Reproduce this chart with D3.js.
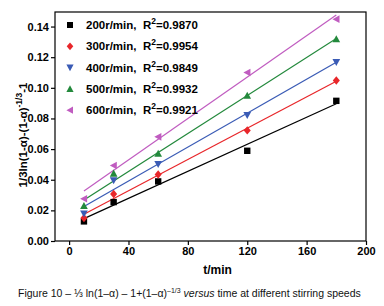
<!DOCTYPE html>
<html>
<head>
<meta charset="utf-8">
<script src="https://cdn.jsdelivr.net/npm/d3@7"></script>
<style>
  html, body { margin: 0; padding: 0; background: #fff; }
  svg { display: block; }
</style>
</head>
<body>
<div id="chart"></div>
<script>
// data
const times = [10, 30, 60, 120, 180];
const seriesNames = ["200r/min", "300r/min", "400r/min", "500r/min", "600r/min"];
const r2Values = ["0.9870", "0.9954", "0.9849", "0.9932", "0.9921"];
const s200 = [0.0128, 0.0254, 0.0389, 0.0589, 0.0915];
const s300 = [0.0150, 0.0307, 0.0434, 0.0722, 0.1048];
const s400 = [0.0178, 0.0395, 0.0502, 0.0822, 0.1168];
const s500 = [0.0230, 0.0441, 0.0571, 0.0950, 0.1318];
const s600 = [0.0276, 0.0493, 0.0680, 0.1100, 0.1448];
const xTicks = [0, 40, 80, 120, 160, 200];
const yTicks = [0.00, 0.02, 0.04, 0.06, 0.08, 0.10, 0.12, 0.14];

const allSeries = [s200, s300, s400, s500, s600];
const colors = ["#000000", "#e8262a", "#3a5bb5", "#23893c", "#c05cc0"];
const shapes = ["square", "diamond", "down", "up", "left"];

const W = 384, H = 306;
const margin = { top: 12, right: 18, bottom: 65, left: 55 };
const width = W - margin.left - margin.right;
const height = H - margin.top - margin.bottom;

const svg = d3.select("#chart").append("svg")
  .attr("width", W)
  .attr("height", H)
  .style("font-family", "Arial, 'Liberation Sans', sans-serif");

const g = svg.append("g")
  .attr("transform", `translate(${margin.left},${margin.top})`);

const x = d3.scaleLinear().domain([-9.5, 200]).range([0, width]);
const y = d3.scaleLinear().domain([0, 0.1495]).range([height, 0]);

// axes
const xAxis = g.append("g")
  .attr("transform", `translate(0,${height})`)
  .call(d3.axisBottom(x).tickValues(xTicks).tickSize(4).tickPadding(2));
const yAxis = g.append("g")
  .call(d3.axisLeft(y).tickValues(yTicks).tickFormat(d3.format(".2f")).tickSize(4).tickPadding(2));

[xAxis, yAxis].forEach(a => {
  a.select(".domain").remove();
  a.selectAll("line").attr("stroke", "#000").attr("stroke-width", 1.2);
  a.selectAll("text")
    .attr("fill", "#000")
    .style("font-size", "11px")
    .style("font-weight", "bold")
    .style("font-family", "Arial, 'Liberation Sans', sans-serif");
});

// frame
g.append("rect")
  .attr("width", width)
  .attr("height", height)
  .attr("fill", "none")
  .attr("stroke", "#000")
  .attr("stroke-width", 1.2);

// linear fits (least squares from the points)
function fit(xs, ys) {
  const mx = d3.mean(xs), my = d3.mean(ys);
  const sxy = d3.sum(xs, (v, i) => (v - mx) * (ys[i] - my));
  const sxx = d3.sum(xs, v => (v - mx) * (v - mx));
  const b = sxy / sxx;
  return { a: my - b * mx, b };
}

const line = d3.line().x(d => x(d[0])).y(d => y(d[1]));

allSeries.forEach((vals, i) => {
  const f = fit(times, vals);
  const x0 = times[0], x1 = times[times.length - 1];
  g.append("path")
    .attr("d", line([[x0, f.a + f.b * x0], [x1, f.a + f.b * x1]]))
    .attr("fill", "none")
    .attr("stroke", colors[i])
    .attr("stroke-width", 1.2);
});

function markerPath(shape, s) {
  switch (shape) {
    case "square": return `M${-s},${-s}H${s}V${s}H${-s}Z`;
    case "diamond": return `M0,${-s * 1.3}L${s * 1.1},0L0,${s * 1.3}L${-s * 1.1},0Z`;
    case "down": return `M${-s * 1.2},${-s}L${s * 1.2},${-s}L0,${s * 1.2}Z`;
    case "up": return `M${-s * 1.2},${s}L${s * 1.2},${s}L0,${-s * 1.2}Z`;
    case "left": return `M${s},${-s * 1.2}L${s},${s * 1.2}L${-s * 1.2},0Z`;
  }
}

allSeries.forEach((vals, i) => {
  g.selectAll(null)
    .data(vals)
    .join("path")
    .attr("transform", (d, j) => `translate(${x(times[j])},${y(d)})`)
    .attr("d", markerPath(shapes[i], 3.2))
    .attr("fill", colors[i]);
});

// legend
const legend = g.append("g").attr("transform", "translate(15,13)");
seriesNames.forEach((name, i) => {
  const row = legend.append("g").attr("transform", `translate(0,${i * 21.3})`);
  row.append("path")
    .attr("d", markerPath(shapes[i], 3))
    .attr("fill", colors[i]);
  const t = row.append("text")
    .attr("x", 16)
    .attr("y", 4)
    .style("font-size", "11.5px")
    .style("font-weight", "bold")
    .style("white-space", "pre")
    .attr("fill", "#000");
  t.append("tspan").text(`${name},  R`);
  t.append("tspan").attr("dy", -5).style("font-size", "8.5px").text("2");
  t.append("tspan").attr("dy", 5).text(`=${r2Values[i]}`);
});

// axis titles
svg.append("text")
  .attr("x", margin.left + x(100))
  .attr("y", 274)
  .attr("text-anchor", "middle")
  .style("font-size", "12px")
  .style("font-weight", "bold")
  .text("t/min");

const yl = svg.append("text")
  .attr("transform", `translate(27,135) rotate(-90)`)
  .attr("text-anchor", "middle")
  .style("font-size", "11.5px")
  .style("font-weight", "bold");
yl.append("tspan").text("1/3ln(1-\u03b1)-(1-\u03b1)");
yl.append("tspan").attr("dy", -5).style("font-size", "8.5px").text("-1/3");
yl.append("tspan").attr("dy", 5).text("-1");

// caption
const cap = svg.append("text")
  .attr("x", 18)
  .attr("y", 297)
  .style("font-size", "10.5px")
  .attr("fill", "#111");
cap.append("tspan").text("Figure 10 \u2013 \u2153 ln(1\u2013\u03b1) \u2013 1+(1\u2013\u03b1)");
cap.append("tspan").attr("dy", -4).style("font-size", "7px").text("\u20131/3");
cap.append("tspan").attr("dy", 4).text(" ");
cap.append("tspan").style("font-style", "italic").text("versus");
cap.append("tspan").text(" time at different stirring speeds");
</script>
</body>
</html>
